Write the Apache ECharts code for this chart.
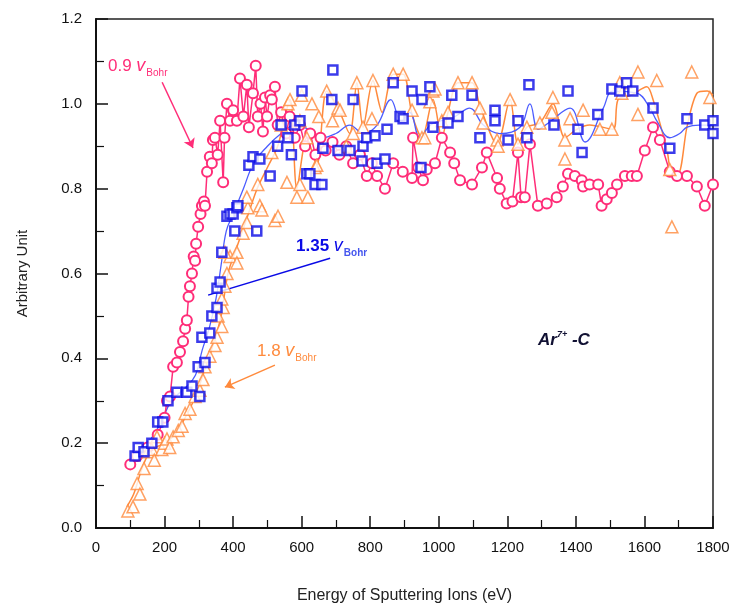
<!DOCTYPE html>
<html>
<head>
<meta charset="utf-8">
<script src="https://cdn.jsdelivr.net/npm/echarts@6/dist/echarts.min.js"></script>
<style>
  html, body { margin: 0; padding: 0; background: #fff; }
  #chart { width: 737px; height: 608px; }
</style>
</head>
<body>
<div id="chart"></div>
<script>
  // 0.9 v_Bohr (pink, circles joined by lines)
  var pinkE = [100, 120, 150, 180, 200, 207, 216, 225, 236, 245, 254, 260, 265, 270, 274, 280, 285, 289, 292, 298,
    305, 309, 315, 318, 324, 332, 338, 341, 347, 355, 362, 371, 375, 382, 391, 400, 411, 420, 430, 440,
    446, 458, 466, 472, 480, 487, 493, 499, 508, 513, 522, 530, 540, 555, 565, 580, 595, 610, 625, 640,
    655, 670, 690, 710, 730, 750, 770, 790, 805, 820, 843, 867, 895, 922, 925, 940, 954, 965, 989, 1009,
    1033, 1045, 1062, 1097, 1126, 1140, 1170, 1178, 1198, 1215, 1231, 1240, 1251, 1266, 1289, 1315, 1344, 1362, 1377, 1397,
    1417, 1421, 1440, 1465, 1475, 1490, 1505, 1520, 1543, 1563, 1578, 1601, 1625, 1645, 1674, 1695, 1724, 1753, 1776, 1800];
  var pinkV = [0.15, 0.17, 0.19, 0.22, 0.26, 0.30, 0.31, 0.38, 0.39, 0.415, 0.44, 0.47, 0.49, 0.545, 0.57, 0.60, 0.64, 0.63, 0.67, 0.71,
    0.74, 0.76, 0.77, 0.76, 0.84, 0.875, 0.86, 0.915, 0.92, 0.88, 0.96, 0.815, 0.92, 1.0, 0.96, 0.985, 0.96, 1.06, 0.97, 1.045,
    0.945, 1.025, 1.09, 0.97, 1.0, 0.935, 1.015, 0.97, 1.02, 1.01, 1.04, 0.95, 0.98, 0.93, 0.97, 0.92, 0.95, 0.90, 0.93, 0.88,
    0.92, 0.89, 0.91, 0.88, 0.90, 0.86, 0.88, 0.83, 0.86, 0.83, 0.80, 0.86, 0.84, 0.825, 0.92, 0.85, 0.82, 0.845, 0.86, 0.92,
    0.885, 0.86, 0.82, 0.81, 0.85, 0.885, 0.825, 0.80, 0.765, 0.77, 0.885, 0.78, 0.78, 0.905, 0.76, 0.765, 0.78, 0.805, 0.835, 0.83,
    0.82, 0.805, 0.81, 0.81, 0.76, 0.775, 0.79, 0.81, 0.83, 0.83, 0.83, 0.89, 0.945, 0.915, 0.84, 0.83, 0.83, 0.805, 0.76, 0.81];

  // 1.35 v_Bohr (blue squares + fitted curve)
  var blueE = [114, 123, 140, 163, 180, 195, 210, 236, 265, 280, 298, 303, 309, 318, 332, 338, 353, 353, 362, 367,
    382, 391, 400, 405, 411, 414, 446, 458, 469, 478, 508, 530, 540, 560, 570, 580, 595, 601, 615, 624,
    639, 659, 662, 688, 691, 706, 741, 750, 776, 779, 790, 814, 820, 843, 849, 867, 887, 896, 922, 948,
    951, 974, 983, 1027, 1038, 1056, 1097, 1120, 1164, 1164, 1202, 1231, 1257, 1263, 1336, 1377, 1406, 1418, 1464, 1505,
    1528, 1548, 1566, 1625, 1674, 1724, 1776, 1800, 1800];
  var blueV = [0.17, 0.19, 0.18, 0.20, 0.25, 0.25, 0.30, 0.32, 0.32, 0.335, 0.38, 0.31, 0.45, 0.39, 0.46, 0.50, 0.52, 0.565, 0.58, 0.65,
    0.735, 0.74, 0.74, 0.70, 0.755, 0.76, 0.855, 0.875, 0.70, 0.87, 0.83, 0.90, 0.95, 0.92, 0.88, 0.95, 0.96, 1.03, 0.835, 0.835,
    0.81, 0.81, 0.895, 1.01, 1.08, 0.89, 0.89, 1.01, 0.865, 0.90, 0.92, 0.925, 0.86, 0.87, 0.94, 1.05, 0.97, 0.965, 1.03, 0.85,
    1.01, 1.04, 0.945, 0.955, 1.02, 0.97, 1.02, 0.92, 0.985, 0.96, 0.915, 0.96, 0.92, 1.045, 0.95, 1.03, 0.94, 0.885, 0.975, 1.035,
    1.03, 1.05, 1.03, 0.99, 0.895, 0.965, 0.95, 0.93, 0.96];
  var blueFitE = [110, 130, 160, 190, 220, 260, 290, 310, 330, 350, 365, 380, 400, 430, 460, 500, 540, 580, 620, 660,
    700, 740, 780, 820, 860, 890, 915, 945, 975, 1005, 1047, 1090, 1130, 1178, 1237, 1266, 1290, 1320, 1383, 1427,
    1480, 1508, 1578, 1616, 1636, 1674, 1703, 1724, 1760, 1800];
  var blueFitV = [0.15, 0.19, 0.21, 0.25, 0.30, 0.33, 0.36, 0.42, 0.47, 0.54, 0.62, 0.70, 0.74, 0.80, 0.86, 0.90, 0.93, 0.95, 0.94, 0.92,
    0.93, 0.95, 0.93, 0.95, 1.01, 0.96, 0.98, 0.92, 0.95, 0.96, 0.97, 0.99, 0.95, 0.93, 0.945, 1.0, 0.94, 0.955, 0.99, 0.91,
    0.99, 1.03, 1.025, 0.99, 0.96, 0.92, 0.93, 0.945, 0.95, 0.95];

  // 1.8 v_Bohr (orange triangles + line)
  var orangeE = [93, 108, 120, 128, 140, 152, 163, 170, 178, 192, 200, 207, 215, 225, 240, 251, 260, 274, 289, 303,
    312, 318, 332, 347, 353, 356, 367, 371, 367, 376, 382, 391, 376, 411, 411, 429, 440, 443, 478, 440,
    472, 484, 513, 522, 531, 540, 557, 560, 566, 586, 595, 595, 600, 615, 618, 630, 639, 644, 650, 673,
    690, 706, 712, 730, 750, 761, 779, 805, 808, 867, 896, 922, 951, 959, 974, 983, 989, 1009, 1027, 1056,
    1097, 1120, 1129, 1170, 1173, 1208, 1231, 1257, 1295, 1330, 1333, 1368, 1368, 1383, 1421, 1470, 1505, 1528, 1534, 1581,
    1581, 1636, 1674, 1680, 1738, 1791];
  var orangeV = [0.04, 0.05, 0.105, 0.08, 0.14, 0.18, 0.185, 0.16, 0.215, 0.185, 0.20, 0.21, 0.19, 0.215, 0.23, 0.24, 0.27, 0.28, 0.31, 0.325,
    0.35, 0.38, 0.405, 0.43, 0.45, 0.50, 0.475, 0.52, 0.54, 0.57, 0.60, 0.64, 0.65, 0.65, 0.625, 0.695, 0.72, 0.755, 0.76, 0.78,
    0.81, 0.75, 0.885, 0.725, 0.735, 0.95, 0.815, 1.0, 1.01, 0.78, 0.81, 0.96, 1.02, 0.92, 0.78, 1.0, 0.85, 0.855, 0.97, 1.03,
    0.96, 0.99, 0.985, 0.90, 0.93, 1.05, 0.945, 0.965, 1.055, 1.07, 1.07, 0.985, 0.92, 0.92, 1.005, 1.03, 1.035, 0.96, 0.98, 1.05,
    1.05, 0.99, 0.955, 0.915, 0.90, 1.01, 0.905, 0.945, 0.955, 0.98, 1.015, 0.915, 0.87, 0.965, 0.985, 0.94, 0.94, 1.05, 1.025, 1.075,
    0.975, 1.055, 0.845, 0.71, 1.075, 1.015];
  var orangeFitE = [90, 110, 130, 150, 175, 200, 230, 260, 290, 320, 345, 365, 385, 410, 440, 470, 500, 530, 566, 586,
    615, 644, 673, 706, 740, 761, 779, 808, 835, 867, 896, 922, 951, 983, 1009, 1027, 1056, 1097, 1120, 1170,
    1208, 1231, 1257, 1295, 1333, 1368, 1403, 1440, 1508, 1523, 1560, 1607, 1625, 1666, 1680, 1698, 1724, 1753, 1783, 1800];
  var orangeFitV = [0.05, 0.08, 0.13, 0.17, 0.19, 0.20, 0.22, 0.26, 0.31, 0.38, 0.44, 0.50, 0.60, 0.66, 0.73, 0.80, 0.85, 0.90, 1.01, 0.80,
    0.92, 0.855, 1.03, 0.99, 0.93, 1.05, 0.945, 1.055, 0.98, 1.07, 1.07, 0.975, 0.92, 1.01, 0.92, 0.98, 1.05, 1.05, 0.995, 0.905,
    1.01, 0.905, 0.945, 0.955, 1.0, 0.92, 0.94, 0.95, 0.94, 1.01, 1.02, 1.04, 1.01, 0.89, 0.835, 0.835, 0.945, 1.025, 1.03, 1.02];

  var xTicks = [0, 200, 400, 600, 800, 1000, 1200, 1400, 1600, 1800];
  var yTicks = [0.0, 0.2, 0.4, 0.6, 0.8, 1.0, 1.2];

  var PINK = "#ff2d78";
  var BLUE = "#0a0ae6";
  var ORANGE = "#ff8a3c";

  function zip(a, b) {
    var out = [];
    for (var i = 0; i < a.length; i++) out.push([a[i], b[i]]);
    return out;
  }

  var chart = echarts.init(document.getElementById("chart"));
  var font = "Liberation Sans, Arial, sans-serif";

  chart.setOption({
    animation: false,
    backgroundColor: "#fff",
    grid: {
      left: 96, right: 24, top: 19, bottom: 80,
      outerBoundsMode: "none", containLabel: false,
      show: true, borderColor: "#222", borderWidth: 1.5
    },
    xAxis: {
      type: "value",
      min: xTicks[0], max: xTicks[xTicks.length - 1], interval: 200,
      name: "Energy of Sputtering Ions (eV)",
      nameLocation: "middle", nameGap: 60,
      nameTextStyle: { fontFamily: font, fontSize: 16, color: "#222" },
      axisLine: { lineStyle: { color: "#111", width: 2 } },
      axisTick: { inside: true, length: 12, lineStyle: { color: "#111", width: 1.5 } },
      minorTick: { show: true, splitNumber: 2, length: 8, lineStyle: { color: "#111", width: 1.2 } },
      axisLabel: {
        fontFamily: font, fontSize: 15, color: "#111", margin: 12,
        formatter: function (v) { return String(v); }
      },
      splitLine: { show: false }
    },
    yAxis: {
      type: "value",
      min: yTicks[0], max: yTicks[yTicks.length - 1], interval: 0.2,
      name: "Arbitrary Unit",
      nameLocation: "middle", nameGap: 66, nameRotate: 90,
      nameTextStyle: { fontFamily: font, fontSize: 15, color: "#222" },
      axisLine: { lineStyle: { color: "#111", width: 2 } },
      axisTick: { inside: true, length: 12, lineStyle: { color: "#111", width: 1.5 } },
      minorTick: { show: true, splitNumber: 2, length: 8, lineStyle: { color: "#111", width: 1.2 } },
      axisLabel: {
        fontFamily: font, fontSize: 15, color: "#111", margin: 14,
        formatter: function (v) { return v.toFixed(1); }
      },
      splitLine: { show: false }
    },
    series: [
      {
        name: "1.8 fit", type: "line", smooth: 0.3, symbol: "none",
        data: zip(orangeFitE, orangeFitV),
        lineStyle: { color: ORANGE, width: 1.5 },
        z: 2,
        markLine: {
          silent: true, symbol: ["none", "arrow"], symbolSize: 9,
          lineStyle: { color: ORANGE, width: 1.5, type: "solid" },
          label: { show: false },
          data: [[{ coord: [522, 0.384] }, { coord: [376, 0.332] }]]
        }
      },
      {
        name: "1.35 fit", type: "line", smooth: 0.4, symbol: "none",
        data: zip(blueFitE, blueFitV),
        lineStyle: { color: "#4b5cff", width: 1.3 },
        z: 3,
        markLine: {
          silent: true, symbol: ["none", "none"],
          lineStyle: { color: BLUE, width: 1.5, type: "solid" },
          label: { show: false },
          data: [[{ coord: [683, 0.636] }, { coord: [327, 0.549] }]]
        }
      },
      {
        name: "0.9", type: "line", symbol: "emptyCircle", symbolSize: 10,
        data: zip(pinkE, pinkV),
        lineStyle: { color: PINK, width: 1.5 },
        itemStyle: { color: PINK, borderColor: PINK, borderWidth: 1.5 },
        z: 4,
        markLine: {
          silent: true, symbol: ["none", "arrow"], symbolSize: 9,
          lineStyle: { color: PINK, width: 1.5, type: "solid" },
          label: { show: false },
          data: [[{ coord: [193, 1.051] }, { coord: [283, 0.896] }]]
        }
      },
      {
        name: "1.8", type: "scatter", symbol: "triangle", symbolSize: 12,
        data: zip(orangeE, orangeV),
        itemStyle: { color: "#fff", borderColor: ORANGE, borderWidth: 1.5 },
        z: 5
      },
      {
        name: "1.35", type: "scatter", symbol: "rect", symbolSize: 9,
        data: zip(blueE, blueV),
        itemStyle: { color: "#fff", borderColor: BLUE, borderWidth: 2.5 },
        z: 6
      }
    ],
    graphic: [
      {
        type: "text", left: 108, top: 57, z: 10,
        style: {
          text: "{n|0.9 }{v|v}{s|Bohr}",
          rich: {
            n: { fontFamily: font, fontSize: 17, fill: PINK },
            v: { fontFamily: font, fontSize: 18, fontStyle: "italic", fill: PINK },
            s: { fontFamily: font, fontSize: 10, fill: PINK, padding: [14, 0, 0, 1] }
          }
        }
      },
      {
        type: "text", left: 296, top: 237, z: 10,
        style: {
          text: "{n|1.35 }{v|v}{s|Bohr}",
          rich: {
            n: { fontFamily: font, fontSize: 17, fontWeight: "bold", fill: BLUE },
            v: { fontFamily: font, fontSize: 18, fontStyle: "italic", fill: BLUE },
            s: { fontFamily: font, fontSize: 10, fontWeight: "bold", fill: "#4455ee", padding: [14, 0, 0, 1] }
          }
        }
      },
      {
        type: "text", left: 257, top: 342, z: 10,
        style: {
          text: "{n|1.8 }{v|v}{s|Bohr}",
          rich: {
            n: { fontFamily: font, fontSize: 17, fill: ORANGE },
            v: { fontFamily: font, fontSize: 18, fontStyle: "italic", fill: ORANGE },
            s: { fontFamily: font, fontSize: 10, fill: ORANGE, padding: [14, 0, 0, 1] }
          }
        }
      },
      {
        type: "text", left: 538, top: 330, z: 10,
        style: {
          text: "{a|Ar}{p|7+}{a| -C}",
          rich: {
            a: { fontFamily: font, fontSize: 17, fontWeight: "bold", fontStyle: "italic", fill: "#111133" },
            p: { fontFamily: font, fontSize: 9, fontWeight: "bold", fontStyle: "italic", fill: "#111133", padding: [0, 0, 12, 0] }
          }
        }
      }
    ]
  });
</script>
</body>
</html>
